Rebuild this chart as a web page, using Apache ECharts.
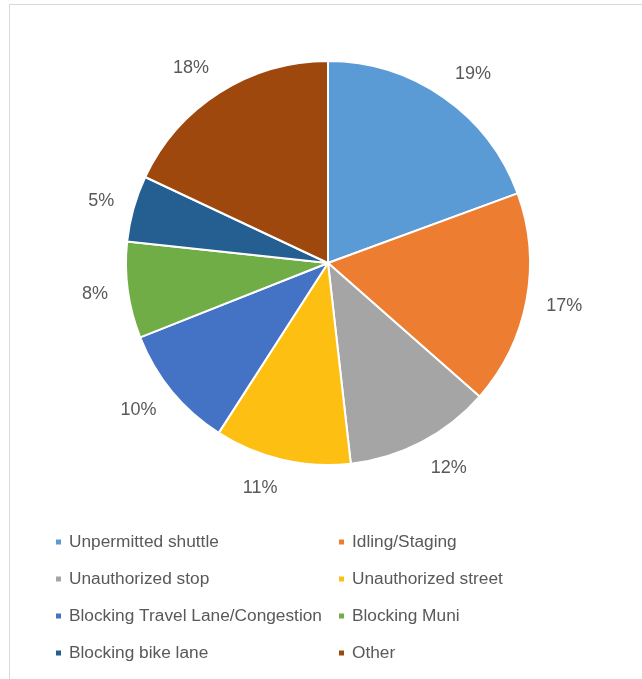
<!DOCTYPE html>
<html>
<head>
<meta charset="utf-8">
<script src="https://cdn.jsdelivr.net/npm/echarts@6/dist/echarts.min.js"></script>
<style>
    html, body { margin: 0; padding: 0; background: #fff; overflow: hidden; }
    #frame {
        position: absolute; left: 9px; top: 4px; width: 700px; height: 720px;
        border: 1px solid #d9d9d9;
    }
    #chart { position: absolute; left: 0; top: 0; width: 642px; height: 679px; }
</style>
</head>
<body>
<div id="frame"></div>
<div id="chart"></div>
<script>
var categories = ['Unpermitted shuttle', 'Idling/Staging', 'Unauthorized stop', 'Unauthorized street',
    'Blocking Travel Lane/Congestion', 'Blocking Muni', 'Blocking bike lane', 'Other'];
var values = [19.4, 17.1, 11.7, 10.9, 9.9, 7.7, 5.3, 18.0];
var colors = ['#5B9BD5', '#ED7D31', '#A5A5A5', '#FDC012', '#4472C4', '#70AD47', '#255E91', '#9E480E'];

var myChart = echarts.init(document.getElementById('chart'));

function pieData() {
    var out = [];
    for (var i = 0; i < categories.length; i++) {
        out.push({ name: categories[i], value: values[i], itemStyle: { color: colors[i] } });
    }
    return out;
}

var leftCol = [categories[0], categories[2], categories[4], categories[6]];
var rightCol = [categories[1], categories[3], categories[5], categories[7]];

function legendCol(x, names) {
    return {
        data: names,
        orient: 'vertical',
        left: x,
        top: 528,
        itemWidth: 7,
        itemHeight: 7,
        itemGap: 19,
        icon: 'rect',
        selectedMode: false,
        textStyle: {
            fontFamily: 'Liberation Sans',
            fontSize: 17.3,
            lineHeight: 18,
            color: '#595959',
            padding: [0, 0, 0, 2]
        }
    };
}

var option = {
    animation: false,
    legend: [legendCol(49, leftCol), legendCol(332, rightCol)],
    series: [
        {
            type: 'pie',
            center: [328, 263],
            radius: 202,
            startAngle: 90,
            clockwise: true,
            data: pieData(),
            itemStyle: { borderColor: '#fff', borderWidth: 2 },
            label: {
                show: true,
                position: 'outside',
                fontFamily: 'Liberation Sans',
                fontSize: 18,
                color: '#595959',
                formatter: function (p) {
                    return Math.round(p.value) + '%';
                }
            },
            labelLine: { show: false, length: 20, length2: 0 },
            // push the label box out from the end of its (hidden) label line,
            // like Excel's "outside end"
            labelLayout: function (params) {
                var pts = params.labelLinePoints;
                if (!pts) return {};
                var dx = pts[1][0] - pts[0][0];
                var dy = pts[1][1] - pts[0][1];
                var len = Math.sqrt(dx * dx + dy * dy) || 1;
                var w = params.labelRect.width;
                var h = params.labelRect.height;
                return {
                    x: pts[1][0] + (dx >= 0 ? 1 : -1) * w / 2,
                    y: pts[1][1] + (dy / len) * h * 0.5,
                    align: 'center',
                    verticalAlign: 'middle'
                };
            },
            emphasis: { disabled: true }
        }
    ]
};
myChart.setOption(option);
</script>
</body>
</html>
